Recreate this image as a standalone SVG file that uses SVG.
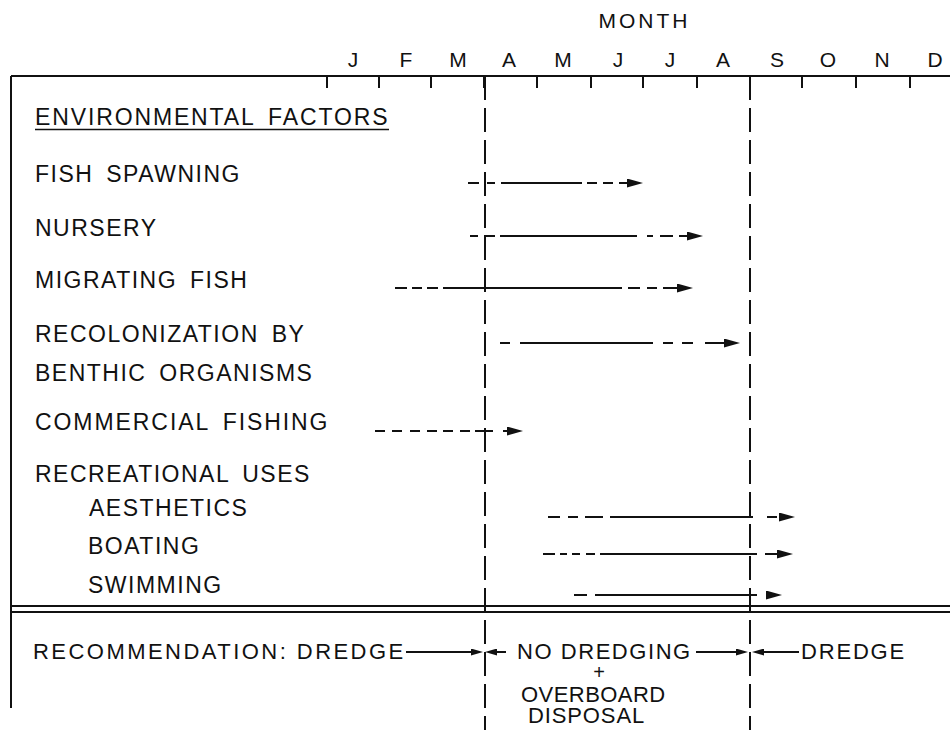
<svg xmlns="http://www.w3.org/2000/svg" width="950" height="730" viewBox="0 0 950 730">
<style>
text{font-family:"Liberation Sans",Arial,Helvetica,sans-serif;fill:#111}
.lbl{font-size:23px;letter-spacing:1.5px;word-spacing:5px}
.mon{font-size:21px;text-anchor:middle}
.rec{font-size:22px;letter-spacing:1.8px}
.frame{stroke:#111;stroke-width:2;fill:none}
.div{stroke:#111;stroke-width:2;fill:none;stroke-dasharray:24 8}
.c{stroke:#111;stroke-width:2;fill:none;marker-end:url(#ah)}
.cs{stroke:#111;stroke-width:2;fill:none;marker-end:url(#as)}
</style>
<defs>
<marker id="ah" markerUnits="userSpaceOnUse" markerWidth="16" markerHeight="9" refX="8" refY="4.5" orient="auto"><path d="M0,0 L16,4.5 L0,9 z" fill="#111"/></marker>
<marker id="as" markerUnits="userSpaceOnUse" markerWidth="12" markerHeight="7" refX="6" refY="3.5" orient="auto"><path d="M0,0 L12,3.5 L0,7 z" fill="#111"/></marker>
</defs>
<rect width="950" height="730" fill="#fff"/>

<g id="frame">
<path class="frame" d="M11,76 H950 M11,76 V708 M11,606 H950 M11,612 H950"/>
<path class="frame" d="M327,76V88 M379,76V88 M431,76V88 M484,76V88 M537,76V88 M591,76V88 M643,76V88 M697,76V88 M750,76V88 M802,76V88 M856,76V88 M910,76V88"/>
<path class="div" d="M485,76 V730 M750,76 V730"/>
</g>

<g id="axis">
<text x="644.5" y="28" class="mon" style="letter-spacing:3px">MONTH</text>
<text x="353" y="67" class="mon">J</text>
<text x="406" y="67" class="mon">F</text>
<text x="458" y="67" class="mon">M</text>
<text x="509" y="67" class="mon">A</text>
<text x="563" y="67" class="mon">M</text>
<text x="618" y="67" class="mon">J</text>
<text x="670" y="67" class="mon">J</text>
<text x="723" y="67" class="mon">A</text>
<text x="777" y="67" class="mon">S</text>
<text x="828" y="67" class="mon">O</text>
<text x="882" y="67" class="mon">N</text>
<text x="935" y="67" class="mon">D</text>
</g>

<g id="heading">
<text x="35" y="125" class="lbl" textLength="354" lengthAdjust="spacing">ENVIRONMENTAL FACTORS</text>
<path d="M35,129.5 H389" stroke="#111" stroke-width="1.5"/>
</g>
<g id="fish-spawning"><text x="35" y="182" class="lbl">FISH SPAWNING</text></g>
<g id="nursery"><text x="35" y="236" class="lbl">NURSERY</text></g>
<g id="migrating-fish"><text x="35" y="288" class="lbl">MIGRATING FISH</text></g>
<g id="recolonization"><text x="35" y="342" class="lbl">RECOLONIZATION BY</text><text x="35" y="381" class="lbl">BENTHIC ORGANISMS</text></g>
<g id="commercial-fishing"><text x="35" y="430" class="lbl" textLength="294" lengthAdjust="spacing">COMMERCIAL FISHING</text></g>
<g id="recreational-uses"><text x="35" y="482" class="lbl">RECREATIONAL USES</text></g>
<g id="aesthetics"><text x="89" y="516" class="lbl">AESTHETICS</text></g>
<g id="boating"><text x="88" y="554" class="lbl">BOATING</text></g>
<g id="swimming"><text x="88" y="593" class="lbl">SWIMMING</text></g>

<g id="recommendation">
<text x="33" y="659" class="rec" textLength="372" lengthAdjust="spacing">RECOMMENDATION: DREDGE</text>
</g>
<g id="no-dredging">
<text x="517" y="659" class="rec" textLength="175" lengthAdjust="spacing">NO DREDGING</text>
<text x="599" y="679" style="font-size:20px;text-anchor:middle">+</text>
<text x="521" y="702" class="rec" textLength="146" lengthAdjust="spacing">OVERBOARD</text>
<text x="528" y="723" class="rec" textLength="118" lengthAdjust="spacing">DISPOSAL</text>
</g>
<g id="dredge-fall">
<text x="801" y="659" class="rec" textLength="105" lengthAdjust="spacing">DREDGE</text>
</g>

<g id="connectors">
<path class="c" d="M468,183H479 M487,183H495 M501,183H582 M587,183H597 M603,183H613 M619,183H635"/>
<path class="c" d="M470,236H478 M484,236H495 M500,236H637 M647,236H653 M660,236H673 M679,236H695"/>
<path class="c" d="M395,288H407 M412,288H422 M427,288H438 M443,288H622 M628,288H640 M647,288H657 M663,288H685"/>
<path class="c" d="M500,343H510 M520,343H653 M663,343H673 M682,343H693 M705,343H732"/>
<path class="c" d="M375,431H385 M392,431H402 M410,431H420 M427,431H437 M443,431H453 M460,431H470 M475,431H493 M503,431H515"/>
<path class="c" d="M548,517H560 M568,517H578 M585,517H603 M610,517H753 M767,517H777 M782,517H787"/>
<path class="c" d="M543,554H555 M560,554H567 M572,554H580 M586,554H595 M600,554H757 M765,554H777 M779,554H785"/>
<path class="c" d="M574,595H587 M595,595H757 M766,595H774"/>
<path class="cs" d="M406,652H477"/>
<path class="cs" d="M506,652H491"/>
<path class="cs" d="M696,652H742"/>
<path class="cs" d="M799,652H758"/>
</g>
</svg>
